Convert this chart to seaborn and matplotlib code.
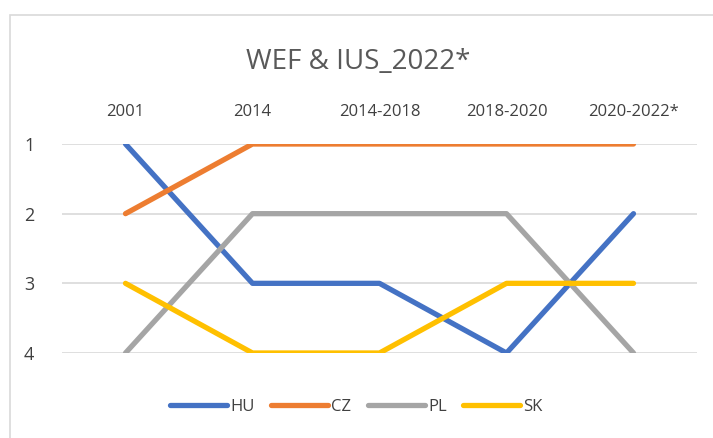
import pandas as pd
import matplotlib.pyplot as plt
import seaborn as sns
from matplotlib.patches import Rectangle

periods = ['2001', '2014', '2014-2018', '2018-2020', '2020-2022*']
hu = [1, 3, 3, 4, 2]
cz = [2, 1, 1, 1, 1]
pl = [4, 2, 2, 2, 4]
sk = [3, 4, 4, 3, 3]

countries = ['HU', 'CZ', 'PL', 'SK']
colors = ['#4472C4', '#ED7D31', '#A5A5A5', '#FFC000']

df = pd.DataFrame({'period': periods * 4,
                   'rank': hu + cz + pl + sk,
                   'country': [c for c in countries for _ in periods]})

sns.set_style('white')
plt.rcParams['font.family'] = ['Open Sans', 'DejaVu Sans']

fig = plt.figure(figsize=(7.13, 4.38), dpi=100)
ax = fig.add_axes([62 / 713, 1 - 353 / 438, 635 / 713, 209 / 438])

sns.lineplot(data=df, x='period', y='rank', hue='country', palette=colors,
             hue_order=countries, sort=False, linewidth=3.8, ax=ax,
             legend=False, zorder=3)

ax.set_xlim(-0.5, 4.5)
ax.set_ylim(4, 1)
ax.set_yticks([1, 2, 3, 4])
ax.set_yticklabels(['1', '2', '3', '4'])
ax.yaxis.grid(True, color='#D9D9D9', linewidth=1.2, zorder=0)
ax.xaxis.tick_top()
ax.tick_params(axis='x', length=0, pad=17, labelsize=12, colors='#404040')
ax.tick_params(axis='y', length=0, pad=20, labelsize=13, colors='#404040')
for lbl in ax.get_xticklabels():
    lbl.set_y(1.0)
ax.xaxis.set_tick_params(labeltop=True)
for s in ax.spines.values():
    s.set_visible(False)
ax.set_xlabel('')
ax.set_ylabel('')

fig.text(0.503, 1 - 62 / 438, 'WEF & IUS_2022*', ha='center', va='center',
         fontsize=20, color='#595959')

handles = [plt.Line2D([0], [0], color=c, linewidth=3.8, solid_capstyle='round')
           for c in colors]
fig.legend(handles, countries, loc='center', bbox_to_anchor=(0.5, 1 - 407 / 438),
           ncol=4, frameon=False, fontsize=12, handlelength=3.4,
           handletextpad=0.2, columnspacing=1.0, labelcolor='#404040')

fig.patches.append(Rectangle((10 / 713, -0.1), 1.2, 1 - 15 / 438 + 0.1,
                             transform=fig.transFigure, fill=False,
                             edgecolor='#D9D9D9', linewidth=1.2))

fig.savefig('out.png', dpi=100)
